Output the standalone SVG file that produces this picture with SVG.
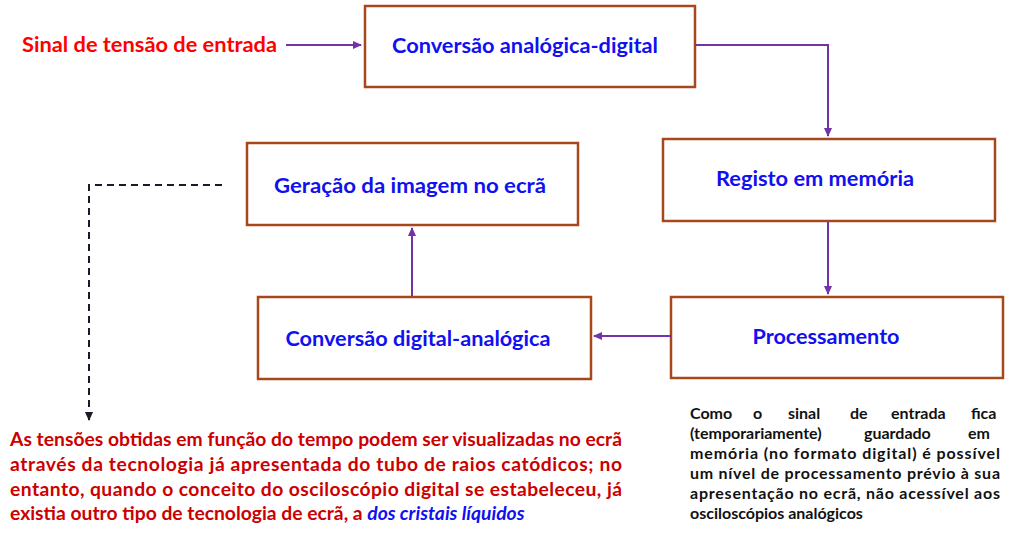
<svg xmlns="http://www.w3.org/2000/svg" width="1011" height="538" viewBox="0 0 1011 538">
<style>
.box{fill:#fff;stroke:#a6471c;stroke-width:2.5}
.lbl{font-family:Lato,"Liberation Sans",sans-serif;font-weight:bold;font-size:21px;fill:#1010f0;text-anchor:middle}
.con{fill:none;stroke:#7432a6;stroke-width:2}
.dash{fill:none;stroke:#1a1a2a;stroke-width:2;stroke-dasharray:7 5}
.red{font-family:Lato,"Liberation Sans",sans-serif;font-weight:bold;font-size:19.3px;fill:#cc0000}
.note{font-family:Lato,"Liberation Sans",sans-serif;font-weight:bold;font-size:16px;fill:#111}
</style>
<defs>
<marker id="ap" markerWidth="10" markerHeight="10" refX="8" refY="5" orient="auto" markerUnits="userSpaceOnUse">
<path d="M0,1 L9,5 L0,9 Z" fill="#7432a6"/>
</marker>
<marker id="ak" markerWidth="10" markerHeight="10" refX="8" refY="5" orient="auto" markerUnits="userSpaceOnUse">
<path d="M0,1 L9,5 L0,9 Z" fill="#1a1a2a"/>
</marker>
</defs>
<text x="22" y="52" font-family="Lato,'Liberation Sans',sans-serif" font-weight="bold" font-size="21" fill="#ff0000" textLength="255" lengthAdjust="spacingAndGlyphs">Sinal de tensão de entrada</text>
<g id="n1"><rect class="box" x="365" y="6" width="330" height="81"/><text class="lbl" x="525" y="53" textLength="266" lengthAdjust="spacingAndGlyphs">Conversão analógica-digital</text></g>
<g id="n2"><rect class="box" x="663" y="139" width="332" height="82"/><text class="lbl" x="815" y="186" textLength="198" lengthAdjust="spacingAndGlyphs">Registo em memória</text></g>
<g id="n3"><rect class="box" x="671" y="297" width="332" height="81"/><text class="lbl" x="826" y="344" textLength="147" lengthAdjust="spacingAndGlyphs">Processamento</text></g>
<g id="n4"><rect class="box" x="258" y="297" width="333" height="82"/><text class="lbl" x="418" y="346" textLength="265" lengthAdjust="spacingAndGlyphs">Conversão digital-analógica</text></g>
<g id="n5"><rect class="box" x="247" y="143" width="331" height="82"/><text class="lbl" x="410" y="193" textLength="272" lengthAdjust="spacingAndGlyphs">Geração da imagem no ecrã</text></g>
<g id="connectors">
<path class="con" d="M286,45 H361" marker-end="url(#ap)"/>
<path class="con" d="M695,45 H828 V136" marker-end="url(#ap)"/>
<path class="con" d="M828,222 V294" marker-end="url(#ap)"/>
<path class="con" d="M671,336 H594" marker-end="url(#ap)"/>
<path class="con" d="M412,296 V228" marker-end="url(#ap)"/>
<path class="dash" d="M222,185 H89 V414"/>
<path d="M89,413 V420" stroke="#1a1a2a" stroke-width="2" marker-end="url(#ak)"/>
</g>
<g id="redtext" class="red">
<text x="10" y="446" textLength="612" lengthAdjust="spacing">As tensões obtidas em função do tempo podem ser visualizadas no ecrã</text>
<text x="10" y="471" textLength="612" lengthAdjust="spacing">através da tecnologia já apresentada do tubo de raios catódicos; no</text>
<text x="10" y="496" textLength="612" lengthAdjust="spacing">entanto, quando o conceito do osciloscópio digital se estabeleceu, já</text>
<text x="10" y="520">existia outro tipo de tecnologia de ecrã, a <tspan fill="#1010f0" font-style="italic">dos cristais líquidos</tspan></text>
</g>
<g id="note" class="note">
<text y="419"><tspan x="690">Como</tspan><tspan x="753">o</tspan><tspan x="788">sinal</tspan><tspan x="850">de</tspan><tspan x="891">entrada</tspan><tspan x="971">fica</tspan></text>
<text y="439"><tspan x="690">(temporariamente)</tspan><tspan x="864">guardado</tspan><tspan x="968">em</tspan></text>
<text x="690" y="459" textLength="310" lengthAdjust="spacing">memória (no formato digital)  é possível</text>
<text x="690" y="479" textLength="310" lengthAdjust="spacing">um nível de processamento  prévio à sua</text>
<text x="690" y="499" textLength="310" lengthAdjust="spacing">apresentação no ecrã,  não acessível aos</text>
<text x="690" y="519">osciloscópios analógicos</text>
</g>
</svg>
